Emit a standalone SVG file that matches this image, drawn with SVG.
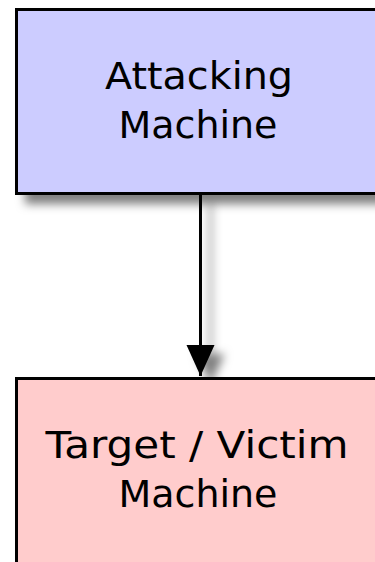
<svg xmlns="http://www.w3.org/2000/svg" width="375" height="562" viewBox="0 0 375 562">
  <style>
    .node { stroke: #000; stroke-width: 3; }
    .label { font-family: "DejaVu Sans", Verdana, sans-serif; font-size: 37px; fill: #000; text-anchor: middle; }
    .edge { stroke: #000; stroke-width: 3; fill: none; }
  </style>
  <defs>
    <filter id="shadow" filterUnits="userSpaceOnUse" x="0" y="0" width="500" height="700">
      <feDropShadow dx="10" dy="9" stdDeviation="5" flood-color="#000" flood-opacity="0.5"/>
    </filter>
    <marker id="arrow" markerUnits="userSpaceOnUse" markerWidth="32" markerHeight="30" refX="31" refY="14" orient="auto">
      <path d="M0,0 L31,14 L0,28 Z" fill="#000"/>
    </marker>
  </defs>

  <rect width="375" height="562" fill="#fff"/>

  <!-- connectors -->
  <g id="edges" filter="url(#shadow)">
    <path class="edge" d="M200.5,194 L200.5,376" marker-end="url(#arrow)"/>
  </g>

  <!-- attacker node -->
  <g id="attacking-machine">
    <rect class="node" x="16.5" y="9.5" width="400" height="184" fill="#ccccff" filter="url(#shadow)"/>
    <text class="label" x="199" y="89" textLength="188" lengthAdjust="spacingAndGlyphs">Attacking</text>
    <text class="label" x="198" y="138" textLength="159" lengthAdjust="spacingAndGlyphs">Machine</text>
  </g>

  <!-- target node -->
  <g id="target-machine">
    <rect class="node" x="16.5" y="378.5" width="400" height="220" fill="#ffcccc" filter="url(#shadow)"/>
    <text class="label" x="197" y="458" textLength="303" lengthAdjust="spacingAndGlyphs">Target / Victim</text>
    <text class="label" x="198" y="507" textLength="159" lengthAdjust="spacingAndGlyphs">Machine</text>
  </g>
</svg>
